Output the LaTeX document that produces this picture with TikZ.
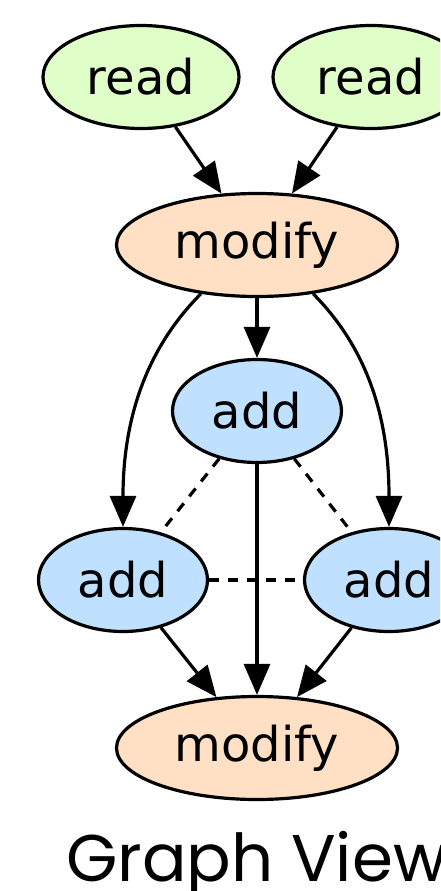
\documentclass[tikz,border=0pt]{standalone}
\usepackage{fontspec}
\setmainfont{DejaVu Sans}
\newfontfamily\titlefont{Poppins}
\usetikzlibrary{arrows.meta,shapes.geometric}
\definecolor{readfill}{HTML}{E0FFC8}
\definecolor{modfill}{HTML}{FFE0C4}
\definecolor{addfill}{HTML}{C0E0FF}
\tikzset{
  op/.style={ellipse, draw=black, line width=3.2pt, inner sep=0pt,
    minimum height=103pt, font=\fontsize{48}{58}\selectfont},
  readop/.style={op, fill=readfill, minimum width=196pt},
  modop/.style={op, fill=modfill, minimum width=281pt},
  addop/.style={op, fill=addfill, minimum width=169pt},
  flow/.style={line width=3.2pt, -{Triangle[length=31pt,width=26pt]}},
  link/.style={line width=3.2pt, dash pattern=on 10pt off 9pt},
}
\begin{document}
\begin{tikzpicture}[x=1pt,y=1pt]
\useasboundingbox (0,0) rectangle (440,-891);
\clip (0,0) rectangle (440,-891);
\fill[white] (0,0) rectangle (440,-891);

% operations
\node[readop] (r1) at (141,-77) {read};
\node[readop] (r2) at (371,-77) {read};
\node[modop]  (mt) at (257,-245) {modify};
\node[addop]  (am) at (257,-411) {add};
\node[addop]  (al) at (123,-580) {add};
\node[addop]  (ar) at (389,-580) {add};
\node[modop]  (mb) at (257,-748) {modify};

% data flow
\draw[flow] (r1) -- (mt);
\draw[flow] (r2) -- (mt);
\draw[flow] (mt) -- (am);
\draw[flow] (mt.221) .. controls (140,-355) and (123,-430) .. (al.north);
\draw[flow] (mt.319) .. controls (374,-355) and (389,-430) .. (ar.north);
\draw[flow] (am) -- (mb);
\draw[flow] (al) -- (mb);
\draw[flow] (ar) -- (mb);

% links between the adds
\draw[link] (am) -- (al);
\draw[link] (am) -- (ar);
\draw[link] (al) -- (ar);

% caption
\node[anchor=base west, inner sep=0pt, font=\titlefont\fontsize{66}{80}\selectfont] (cap) at (66,-881) {Graph View};
\end{tikzpicture}
\end{document}
